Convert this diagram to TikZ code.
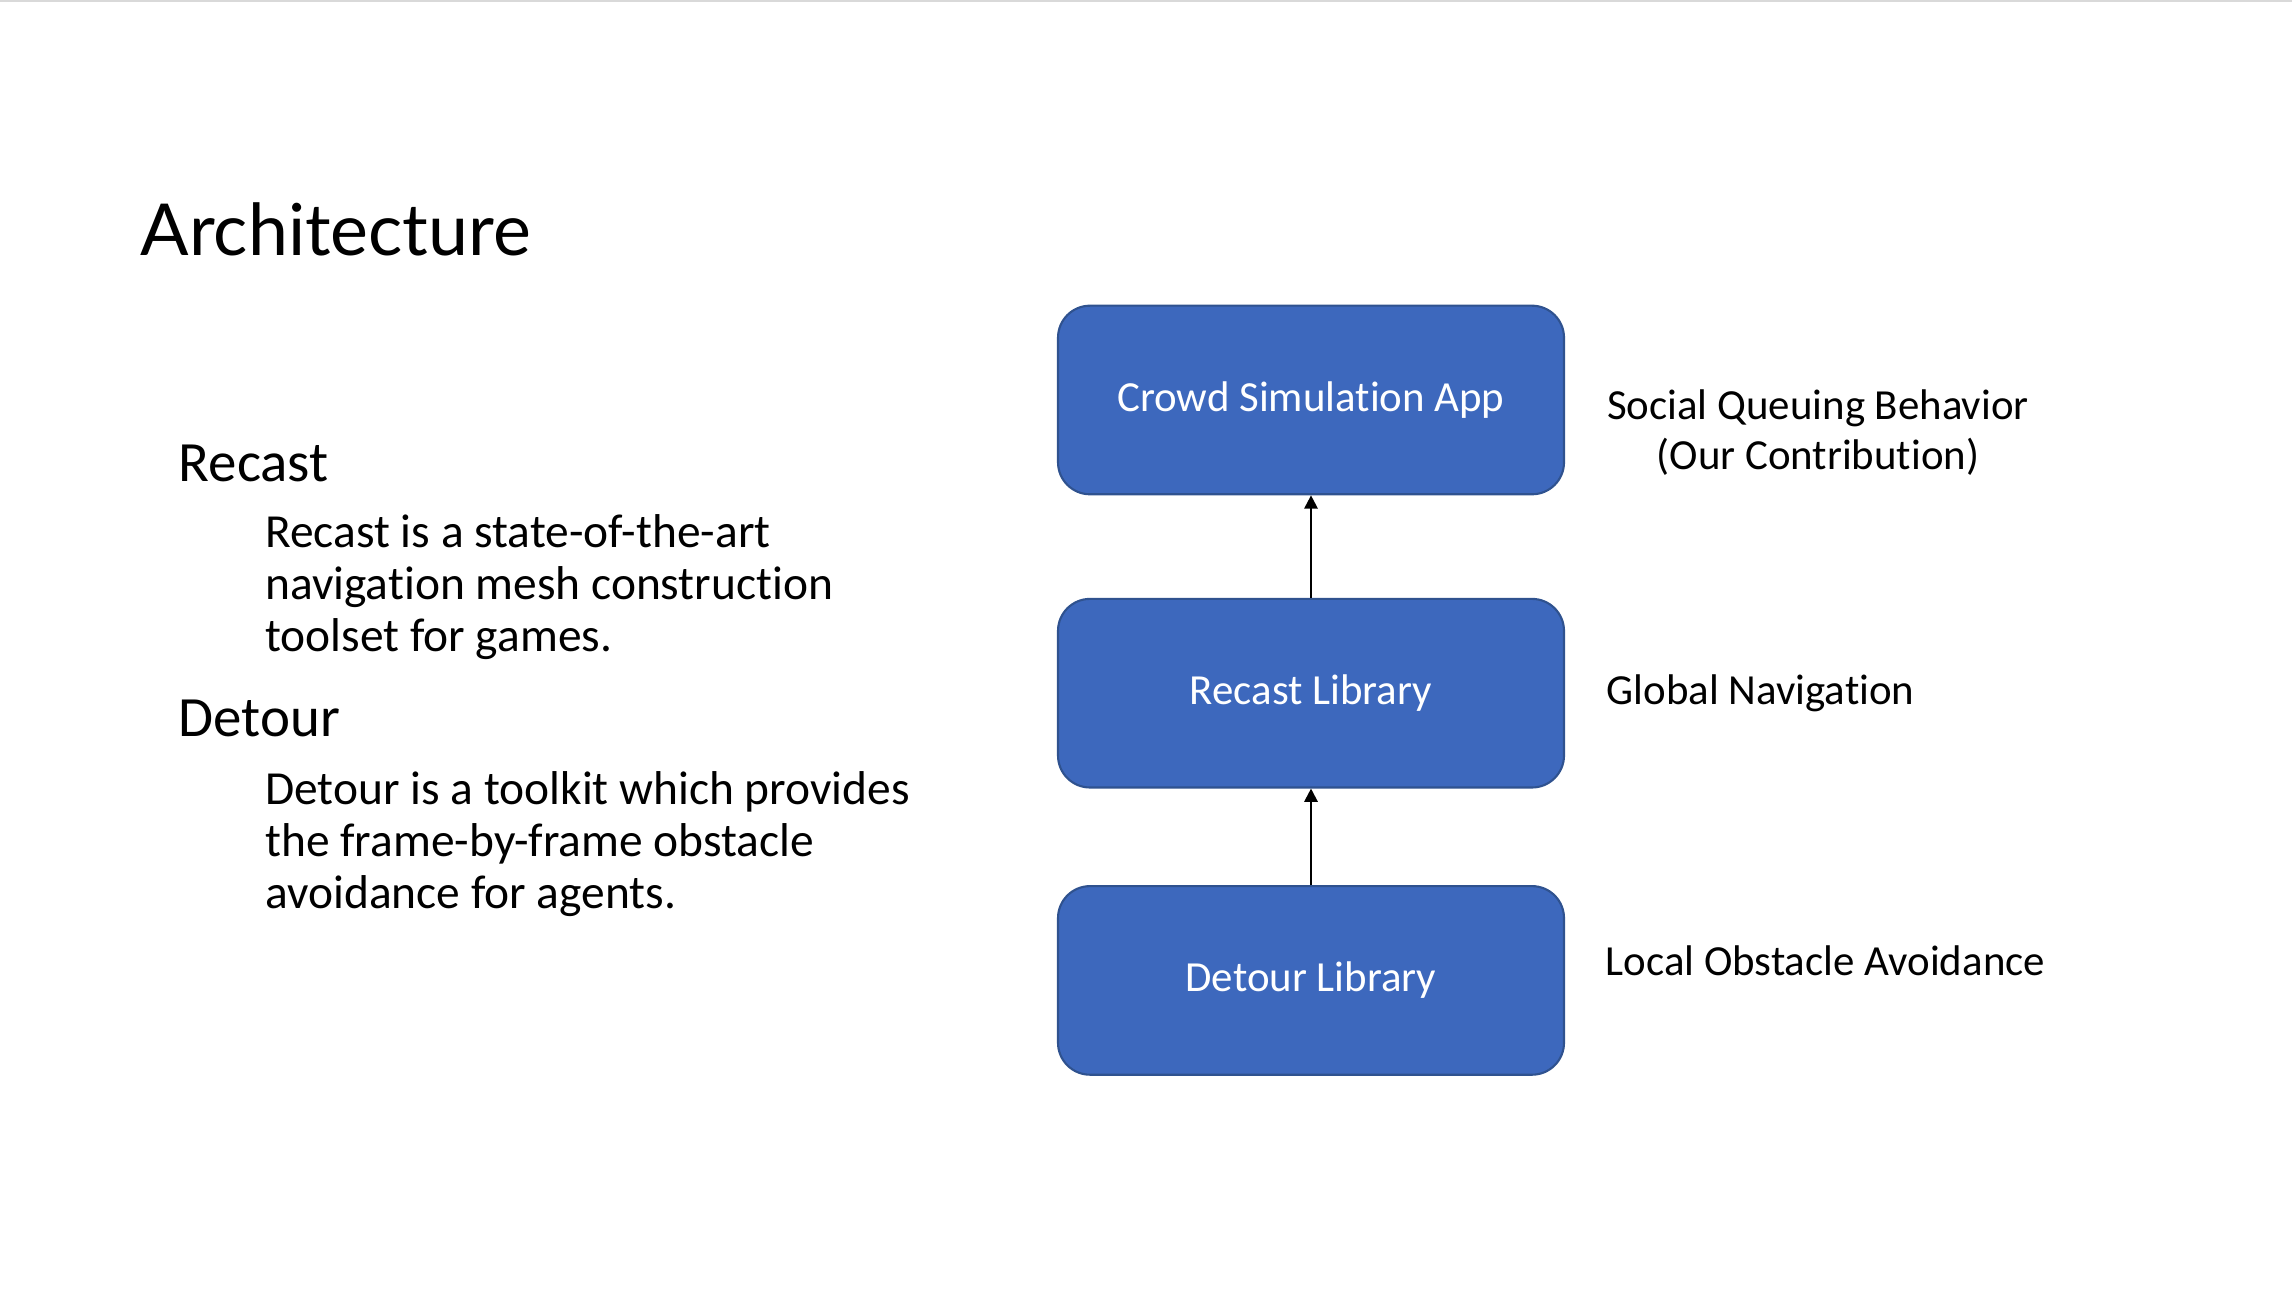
\documentclass[tikz,border=0pt]{standalone}
\usepackage{fontspec}
\setmainfont{Carlito}[Ligatures=NoCommon]
\newfontfamily\titlefont{Lato}
\usepackage{tikz}
\usetikzlibrary{positioning}
\usetikzlibrary{arrows.meta}
\usepackage{xcolor}
\definecolor{boxblue}{RGB}{61,104,189}
\definecolor{boxedge}{RGB}{47,82,143}
\definecolor{slidegray}{RGB}{217,217,217}

\begin{document}
\begin{tikzpicture}[
    layerbox/.style={draw=boxedge, fill=boxblue, line width=0.6pt, rounded corners=0.32cm, minimum width=5.06cm, minimum height=1.886cm, text=white, font=\fontsize{12.2}{13.4}\selectfont},
    sidelabel/.style={inner sep=0pt, font=\fontsize{12.2}{14.2}\selectfont},
    heading/.style={inner sep=0pt, anchor=base west, font=\fontsize{16.2}{19}\selectfont},
    bodytext/.style={inner sep=0pt, anchor=north west, align=left, font=\fontsize{13.5}{14.8}\selectfont},
    uplink/.style={-{Triangle[width=3.8pt,length=3.8pt]}, line width=0.6pt}
]
    \useasboundingbox (0,0) rectangle (22.92,12.90);
    \draw[slidegray, line width=1pt] (0,12.90) -- (22.92,12.90);

    % Title
    \node (title) [inner sep=0pt, anchor=base west, font=\titlefont\fontsize{20.4}{24}\selectfont] at (1.40,10.34) {Architecture};

    % Left column text
    \node (recast) [heading] at (1.78,8.08) {Recast};
    \node (recastbody) [bodytext] at (2.646,7.76) {Recast is a state-of-the-art\\navigation mesh construction\\toolset for games.};
    \node (detour) [heading] at (1.78,5.533) {Detour};
    \node (detourbody) [bodytext] at (2.646,5.19) {Detour is a toolkit which provides\\the frame-by-frame obstacle\\avoidance for agents.};

    % Layer stack
    \node (app) [layerbox] at (13.11,8.90) {Crowd Simulation App};
    \node (recastlib) [layerbox, below=1.025cm of app] {Recast Library};
    \node (detourlib) [layerbox, below=0.965cm of recastlib] {Detour Library};
    \draw[uplink] (recastlib.north) -- (app.south);
    \draw[uplink] (detourlib.north) -- (recastlib.south);

    % Labels on the right
    \node (social) [sidelabel, align=center] at (18.18,8.575) {Social Queuing Behavior\\(Our Contribution)};
    \node (global) [sidelabel, right=0.41cm of recastlib] {Global Navigation};
    \node (local) [sidelabel, anchor=base west] at (16.05,3.15) {Local Obstacle Avoidance};
\end{tikzpicture}
\end{document}
